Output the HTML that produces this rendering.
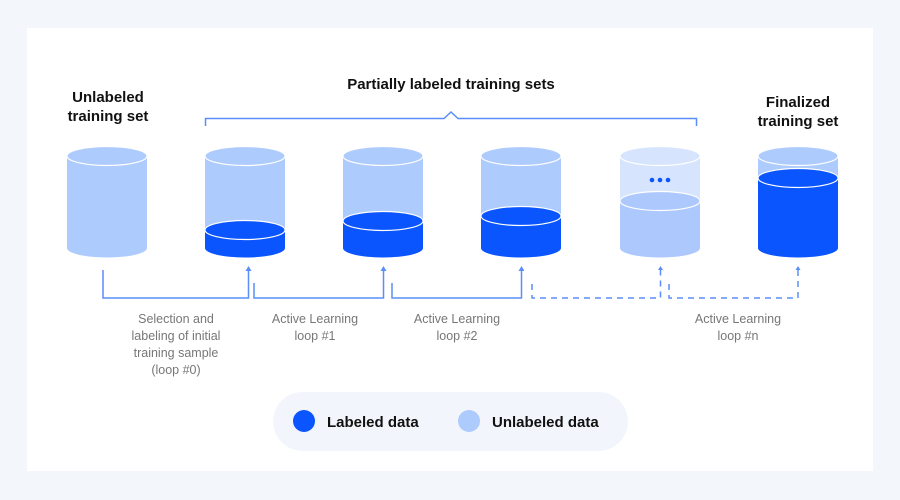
<!DOCTYPE html>
<html><head><meta charset="utf-8"><style>
html,body{margin:0;padding:0;background:#f3f6fb;}
svg{display:block;font-family:"Liberation Sans",sans-serif;}
</style></head><body>
<svg width="900" height="500" viewBox="0 0 900 500" xmlns="http://www.w3.org/2000/svg">
<rect x="0" y="0" width="900" height="500" fill="#f3f6fb"/>
<rect x="27" y="28" width="846" height="443" fill="#ffffff"/>
<g font-weight="bold" font-size="15" fill="#111" text-anchor="middle">
<text x="108" y="102">Unlabeled</text><text x="108" y="121">training set</text>
<text x="451" y="89">Partially labeled training sets</text>
<text x="798" y="107">Finalized</text><text x="798" y="126">training set</text>
</g>
<path d="M205.5 126 V118.5 H444 L451 112 L458 118.5 H696.5 V126" fill="none" stroke="#5b8ef8" stroke-width="1.5"/>
<!-- cylinders -->
<g stroke="#fff" stroke-width="1.2">
<!-- 1 -->
<path d="M67 156 V248 A40 9.5 0 0 0 147 248 V156 Z" fill="#aecbfd" stroke="none"/>
<ellipse cx="107" cy="156" rx="40" ry="9.5" fill="#aecbfd"/>
<!-- 2 -->
<path d="M205 156 V248 A40 9.5 0 0 0 285 248 V156 Z" fill="#aecbfd" stroke="none"/>
<path d="M205 230 V248 A40 9.5 0 0 0 285 248 V230 Z" fill="#0b55ff" stroke="none"/>
<ellipse cx="245" cy="230" rx="40" ry="9.5" fill="#0b55ff"/>
<ellipse cx="245" cy="156" rx="40" ry="9.5" fill="#aecbfd"/>
<!-- 3 -->
<path d="M343 156 V248 A40 9.5 0 0 0 423 248 V156 Z" fill="#aecbfd" stroke="none"/>
<path d="M343 221 V248 A40 9.5 0 0 0 423 248 V221 Z" fill="#0b55ff" stroke="none"/>
<ellipse cx="383" cy="221" rx="40" ry="9.5" fill="#0b55ff"/>
<ellipse cx="383" cy="156" rx="40" ry="9.5" fill="#aecbfd"/>
<!-- 4 -->
<path d="M481 156 V248 A40 9.5 0 0 0 561 248 V156 Z" fill="#aecbfd" stroke="none"/>
<path d="M481 216 V248 A40 9.5 0 0 0 561 248 V216 Z" fill="#0b55ff" stroke="none"/>
<ellipse cx="521" cy="216" rx="40" ry="9.5" fill="#0b55ff"/>
<ellipse cx="521" cy="156" rx="40" ry="9.5" fill="#aecbfd"/>
<!-- 5 -->
<path d="M620 156 V248 A40 9.5 0 0 0 700 248 V156 Z" fill="#d6e5fd" stroke="none"/>
<path d="M620 201 V248 A40 9.5 0 0 0 700 248 V201 Z" fill="#adc8fd" stroke="none"/>
<ellipse cx="660" cy="201" rx="40" ry="9.5" fill="#adc8fd"/>
<ellipse cx="660" cy="156" rx="40" ry="9.5" fill="#d6e5fd"/>
<!-- 6 -->
<path d="M758 156 V248 A40 9.5 0 0 0 838 248 V156 Z" fill="#aecbfd" stroke="none"/>
<path d="M758 178 V248 A40 9.5 0 0 0 838 248 V178 Z" fill="#0b55ff" stroke="none"/>
<ellipse cx="798" cy="156" rx="40" ry="9.5" fill="#aecbfd"/>
<ellipse cx="798" cy="178" rx="40" ry="9.5" fill="#0b55ff"/>
</g>
<g fill="#0b55ff"><circle cx="652" cy="180" r="2.3"/><circle cx="660" cy="180" r="2.3"/><circle cx="668" cy="180" r="2.3"/></g>
<!-- connectors -->
<g fill="none" stroke="#5b8ef8" stroke-width="1.5">
<path d="M103 270 V298 H248.5 V269"/>
<path d="M254 283 V298 H383.5 V269"/>
<path d="M392 283 V298 H521.5 V269"/>
<path d="M532 284 V298 H660.5 V269" stroke-dasharray="6 5"/>
<path d="M669 284 V298 H798 V269" stroke-dasharray="6 5"/>
</g>
<g fill="#5b8ef8">
<path d="M245.5 271 L248.5 266 L251.5 271Z"/>
<path d="M380.5 271 L383.5 266 L386.5 271Z"/>
<path d="M518.5 271 L521.5 266 L524.5 271Z"/>
<path d="M658 270 L660.5 266 L663 270Z"/>
<path d="M795.5 270 L798 266 L800.5 270Z"/>
</g>
<g font-size="12.5" fill="#777" text-anchor="middle">
<text x="176" y="323">Selection and</text>
<text x="176" y="340">labeling of initial</text>
<text x="176" y="357">training sample</text>
<text x="176" y="374">(loop #0)</text>
<text x="315" y="323">Active Learning</text>
<text x="315" y="340">loop #1</text>
<text x="457" y="323">Active Learning</text>
<text x="457" y="340">loop #2</text>
<text x="738" y="323">Active Learning</text>
<text x="738" y="340">loop #n</text>
</g>
<rect x="273" y="392" width="355" height="59" rx="29.5" fill="#f2f6fc"/>
<circle cx="304" cy="421" r="11" fill="#0b55ff"/>
<circle cx="469" cy="421" r="11" fill="#aecbfd"/>
<g font-weight="bold" font-size="15" fill="#111">
<text x="327" y="427">Labeled data</text>
<text x="492" y="427">Unlabeled data</text>
</g>
</svg>
</body></html>
